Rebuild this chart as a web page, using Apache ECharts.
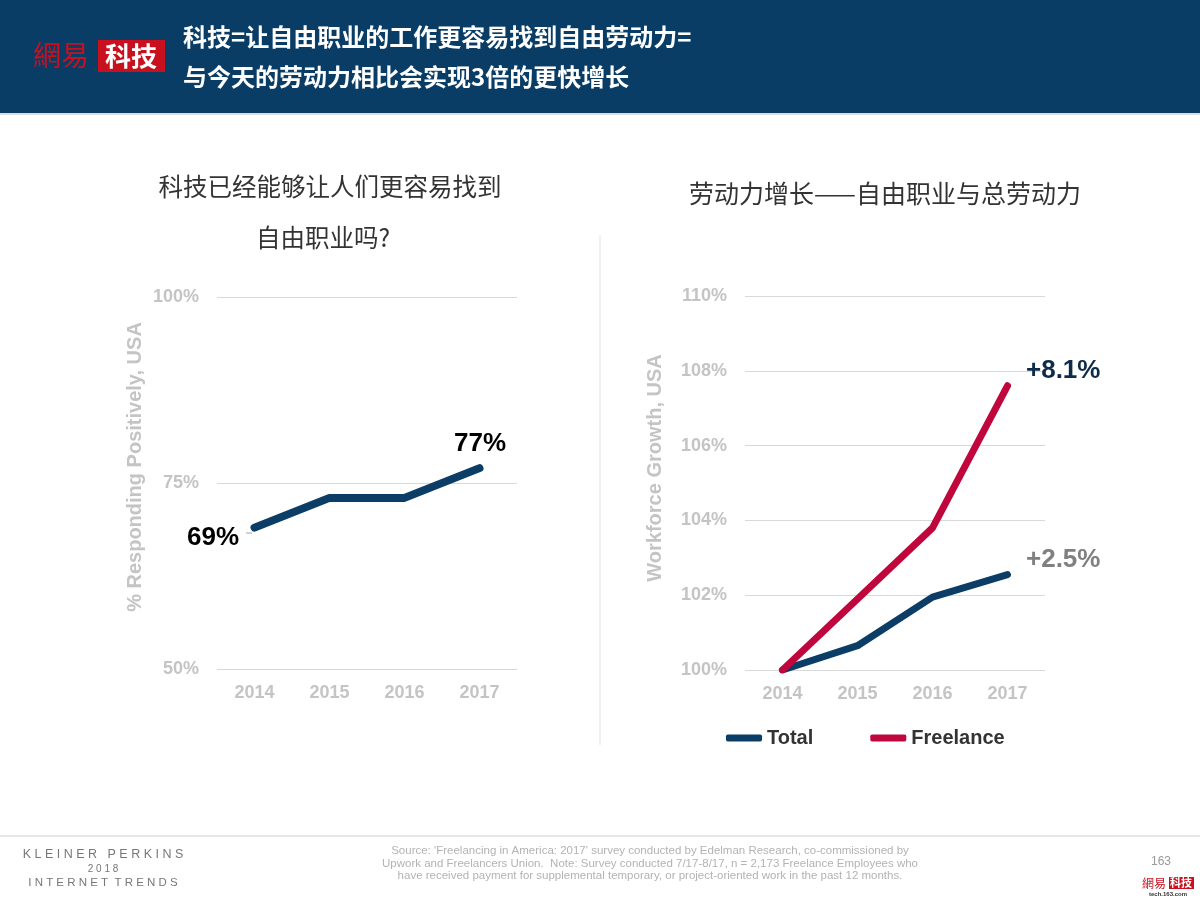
<!DOCTYPE html>
<html><head><meta charset="utf-8">
<script src="https://cdn.jsdelivr.net/npm/echarts@6/dist/echarts.min.js"></script>
<style>html,body{margin:0;padding:0;background:#fff}#c{width:1200px;height:900px}</style>
</head><body><div id="c"></div>
<script>
const years = ['2014', '2015', '2016', '2017'];
const positive = [69, 73, 73, 77];
const positiveLabels = ['69%', '', '', '77%'];
const totalGrowth = [100, 100.65, 101.95, 102.55];
const freelanceGrowth = [100, 101.9, 103.8, 107.6];
const totalLabels = ['', '', '', '+2.5%'];
const freelanceLabels = ['', '', '', '+8.1%'];
const leftTicks = { min: 50, max: 100, interval: 25 };
const rightTicks = { min: 100, max: 110, interval: 2 };

const FONT = 'Liberation Sans, Arial, "Noto Sans CJK SC", sans-serif';
const CJK = '"Noto Sans CJK SC", "Liberation Sans", sans-serif';
const NAVY = '#0b3d66', RED = '#c0073d', GRAY = '#c4c4c4';

function axisLabel() { return { color: GRAY, fontFamily: FONT, fontWeight: 'bold', fontSize: 18 }; }

function withLabels(values, labels, labelOpt) {
  return values.map((v, i) => labels[i]
    ? { value: v, label: Object.assign({ show: true, formatter: labels[i] }, labelOpt || {}) }
    : { value: v, label: { show: false } });
}

const bigLabel = { fontFamily: FONT, fontWeight: 'bold', fontSize: 26 };

const chart = echarts.init(document.getElementById('c'));
chart.setOption({
  backgroundColor: '#fff',
  animation: false,
  grid: [
    { left: 217, right: 683, top: 297, bottom: 231 },
    { left: 745, right: 155, top: 296, bottom: 230 }
  ],
  xAxis: [0, 1].map(i => ({
    gridIndex: i, type: 'category', data: years, boundaryGap: true,
    axisLine: { show: false }, axisTick: { show: false },
    axisLabel: Object.assign(axisLabel(), { margin: 15 })
  })),
  yAxis: [
    Object.assign({ gridIndex: 0, type: 'value' }, leftTicks, {
      axisLine: { show: false }, axisTick: { show: false },
      splitLine: { lineStyle: { color: '#d9d9d9', width: 1 } },
      axisLabel: Object.assign(axisLabel(), { formatter: '{value}%', margin: 18 })
    }),
    Object.assign({ gridIndex: 1, type: 'value' }, rightTicks, {
      axisLine: { show: false }, axisTick: { show: false },
      splitLine: { lineStyle: { color: '#d9d9d9', width: 1 } },
      axisLabel: Object.assign(axisLabel(), { formatter: '{value}%', margin: 18 })
    })
  ],
  legend: {
    data: ['Total', 'Freelance'],
    left: 721, top: 723, itemWidth: 36, itemHeight: 7, itemGap: 57, icon: 'roundRect',
    textStyle: { color: '#333', fontFamily: FONT, fontWeight: 'bold', fontSize: 20 }
  },
  series: [
    {
      type: 'line', xAxisIndex: 0, yAxisIndex: 0, symbol: 'circle', symbolSize: 1, showSymbol: true,
      data: withLabels(positive, positiveLabels, Object.assign({ color: '#000' }, bigLabel)),
      lineStyle: { color: NAVY, width: 8, cap: 'round', join: 'round' },
      itemStyle: { color: NAVY },
      labelLayout: p => p.dataIndex === 0 ? { x: 213, y: 538, align: 'center', verticalAlign: 'middle' } : { x: 480, y: 444, align: 'center', verticalAlign: 'middle' },
      z: 3
    },
    {
      name: 'Total', type: 'line', xAxisIndex: 1, yAxisIndex: 1, symbol: 'circle', symbolSize: 1, showSymbol: true,
      data: withLabels(totalGrowth, totalLabels, Object.assign({ color: '#808080', position: 'right', distance: 18, offset: [0, -15] }, bigLabel)),
      lineStyle: { color: NAVY, width: 7, cap: 'round', join: 'round' },
      itemStyle: { color: NAVY },
      z: 3
    },
    {
      name: 'Freelance', type: 'line', xAxisIndex: 1, yAxisIndex: 1, symbol: 'circle', symbolSize: 1, showSymbol: true,
      data: withLabels(freelanceGrowth, freelanceLabels, Object.assign({ color: '#0d2b4a', position: 'right', distance: 18, offset: [0, -15] }, bigLabel)),
      lineStyle: { color: RED, width: 7, cap: 'round', join: 'round' },
      itemStyle: { color: RED },
      z: 4
    }
  ],
  graphic: [
    { type: 'rect', shape: { x: 0, y: 0, width: 1200, height: 113 }, style: { fill: '#0a3d66' }, silent: true },
    { type: 'rect', shape: { x: 0, y: 113, width: 1200, height: 2 }, style: { fill: '#d6dde6' }, silent: true },
    { type: 'text', x: 33, y: 55, style: { text: '網易', fill: '#c8101e', font: '28px "Noto Sans CJK TC", serif', verticalAlign: 'middle' } },
    { type: 'rect', shape: { x: 98, y: 40, width: 67, height: 32 }, style: { fill: '#c8101e' } },
    { type: 'text', x: 131, y: 56, style: { text: '科技', fill: '#fff', font: 'bold 26px "Noto Sans CJK SC", serif', align: 'center', verticalAlign: 'middle' } },
    { type: 'text', x: 183, y: 37, style: { text: '科技=让自由职业的工作更容易找到自由劳动力=', fill: '#fff', font: 'bold 24px ' + CJK, verticalAlign: 'middle' } },
    { type: 'text', x: 183, y: 77, style: { text: '与今天的劳动力相比会实现3倍的更快增长', fill: '#fff', font: 'bold 24px ' + CJK, verticalAlign: 'middle' } },

    { type: 'text', x: 330, y: 187, style: { text: '科技已经能够让人们更容易找到', fill: '#333', font: '24.5px ' + CJK, align: 'center', verticalAlign: 'middle' } },
    { type: 'text', x: 323, y: 238, style: { text: '自由职业吗?', fill: '#333', font: '24.5px ' + CJK, align: 'center', verticalAlign: 'middle' } },
    { type: 'text', x: 885, y: 193, style: { text: '劳动力增长——自由职业与总劳动力', fill: '#333', font: '25px ' + CJK, align: 'center', verticalAlign: 'middle' } },

    { type: 'text', x: 135, y: 467, rotation: Math.PI / 2, style: { text: '% Responding Positively, USA', fill: GRAY, font: 'bold 20px ' + FONT, align: 'center', verticalAlign: 'middle' } },
    { type: 'text', x: 655, y: 468, rotation: Math.PI / 2, style: { text: 'Workforce Growth, USA', fill: GRAY, font: 'bold 20px ' + FONT, align: 'center', verticalAlign: 'middle' } },
    { type: 'line', shape: { x1: 246, y1: 533, x2: 252, y2: 533 }, style: { stroke: '#a6a6a6', lineWidth: 1 } },

    { type: 'line', shape: { x1: 600, y1: 235, x2: 600, y2: 745 }, style: { stroke: '#e3e3e3', lineWidth: 1 } },

    { type: 'line', shape: { x1: 0, y1: 836, x2: 1200, y2: 836 }, style: { stroke: '#e6e6e6', lineWidth: 2 } },
    { type: 'text', x: 103, y: 855, style: { text: 'K L E I N E R   P E R K I N S', fill: '#777', font: '12.5px ' + FONT, align: 'center', verticalAlign: 'middle' } },
    { type: 'text', x: 103, y: 869, style: { text: '2 0 1 8', fill: '#777', font: '10px ' + FONT, align: 'center', verticalAlign: 'middle' } },
    { type: 'text', x: 103, y: 883, style: { text: 'I N T E R N E T  T R E N D S', fill: '#777', font: '11.5px ' + FONT, align: 'center', verticalAlign: 'middle' } },
    { type: 'text', x: 650, y: 851, style: { text: "Source: 'Freelancing in America: 2017' survey conducted by Edelman Research, co-commissioned by", fill: '#b3b3b3', font: '11.5px ' + FONT, align: 'center', verticalAlign: 'middle' } },
    { type: 'text', x: 650, y: 864, style: { text: 'Upwork and Freelancers Union.  Note: Survey conducted 7/17-8/17, n = 2,173 Freelance Employees who', fill: '#b3b3b3', font: '11.5px ' + FONT, align: 'center', verticalAlign: 'middle' } },
    { type: 'text', x: 650, y: 876, style: { text: 'have received payment for supplemental temporary, or project-oriented work in the past 12 months.', fill: '#b3b3b3', font: '11.5px ' + FONT, align: 'center', verticalAlign: 'middle' } },
    { type: 'text', x: 1161, y: 862, style: { text: '163', fill: '#999', font: '12px ' + FONT, align: 'center', verticalAlign: 'middle' } },
    { type: 'text', x: 1142, y: 883, style: { text: '網易', fill: '#c8101e', font: '12px "Noto Sans CJK TC", serif', verticalAlign: 'middle' } },
    { type: 'rect', shape: { x: 1169, y: 877, width: 25, height: 12 }, style: { fill: '#c8101e' } },
    { type: 'text', x: 1181, y: 883, style: { text: '科技', fill: '#fff', font: 'bold 11px "Noto Sans CJK SC", serif', align: 'center', verticalAlign: 'middle' } },
    { type: 'text', x: 1168, y: 894, style: { text: 'tech.163.com', fill: '#333', font: 'bold 6px ' + FONT, align: 'center', verticalAlign: 'middle' } }
  ]
});
</script>
</body></html>
